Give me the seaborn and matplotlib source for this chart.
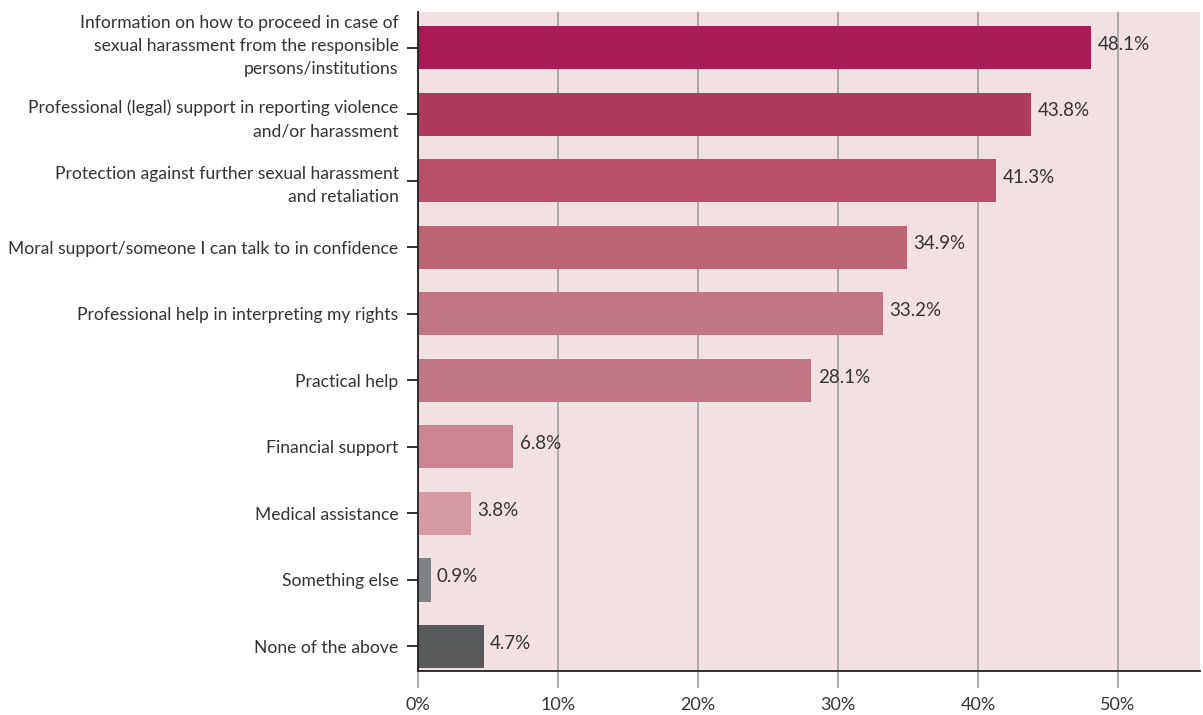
import matplotlib
matplotlib.use("Agg")
import matplotlib.pyplot as plt
import matplotlib.transforms as mtransforms
import seaborn as sns
import pandas as pd

categories = [
    "Information on how to proceed in case of\nsexual harassment from the responsible\npersons/institutions",
    "Professional (legal) support in reporting violence\nand/or harassment",
    "Protection against further sexual harassment\nand retaliation",
    "Moral support/someone I can talk to in confidence",
    "Professional help in interpreting my rights",
    "Practical help",
    "Financial support",
    "Medical assistance",
    "Something else",
    "None of the above",
]
values = [48.1, 43.8, 41.3, 34.9, 33.2, 28.1, 6.8, 3.8, 0.9, 4.7]
bar_colors = ["#a91b55", "#ae3a5e", "#b84f69", "#bd6475", "#c27584",
              "#c27584", "#cb8491", "#d59ba5", "#808285", "#58595b"]
x_ticks = [0, 10, 20, 30, 40, 50]

sns.set_theme(style="white")
plt.rcParams["font.family"] = ["Lato", "DejaVu Sans"]
text_color = "#333333"

df = pd.DataFrame({"category": categories, "value": values})

fig = plt.figure(figsize=(12.03, 7.15), dpi=100)
ax = fig.add_axes([0.3475, 0.0615, 0.65, 0.9215])
ax.set_facecolor("#f2e1e3")

sns.barplot(data=df, x="value", y="category", hue="category",
            palette=bar_colors, legend=False, width=0.65,
            saturation=1, linewidth=0, ax=ax, zorder=3)

ax.set_xlim(0, 55.86)
ax.set_ylim(9.37, -0.535)
ax.set_xticks(x_ticks)
ax.set_xticklabels([f"{t}%" for t in x_ticks])
ax.xaxis.grid(True, color="#a0a0a0", linewidth=1.2, zorder=1)
ax.set_axisbelow(True)
ax.set_xlabel("")
ax.set_ylabel("")

for s in ["top", "right"]:
    ax.spines[s].set_visible(False)
for s in ["left", "bottom"]:
    ax.spines[s].set_color("#231f20")
    ax.spines[s].set_linewidth(1.3)
    ax.spines[s].set_zorder(5)

ax.tick_params(axis="y", length=8, width=1.3, color="#231f20",
               labelsize=12.6, labelcolor=text_color, pad=6, left=True)
ax.tick_params(axis="x", length=12, width=1.2, color="#a0a0a0",
               labelsize=13, labelcolor=text_color, pad=7, bottom=True)
for lbl in ax.get_yticklabels():
    lbl.set_multialignment("right")
    lbl.set_linespacing(1.55)

# nudge the three-line label up so it sits a little above its bar's centre
shift_up = mtransforms.ScaledTranslation(0, 7 / 100, fig.dpi_scale_trans)
first_label = ax.get_yticklabels()[0]
first_label.set_transform(first_label.get_transform() + shift_up)

for i, v in enumerate(values):
    ax.text(v + 0.45, i - 0.05, f"{v}%", va="center", ha="left",
            fontsize=13.5, color=text_color, zorder=6)

fig.savefig("out.png", dpi=100)
